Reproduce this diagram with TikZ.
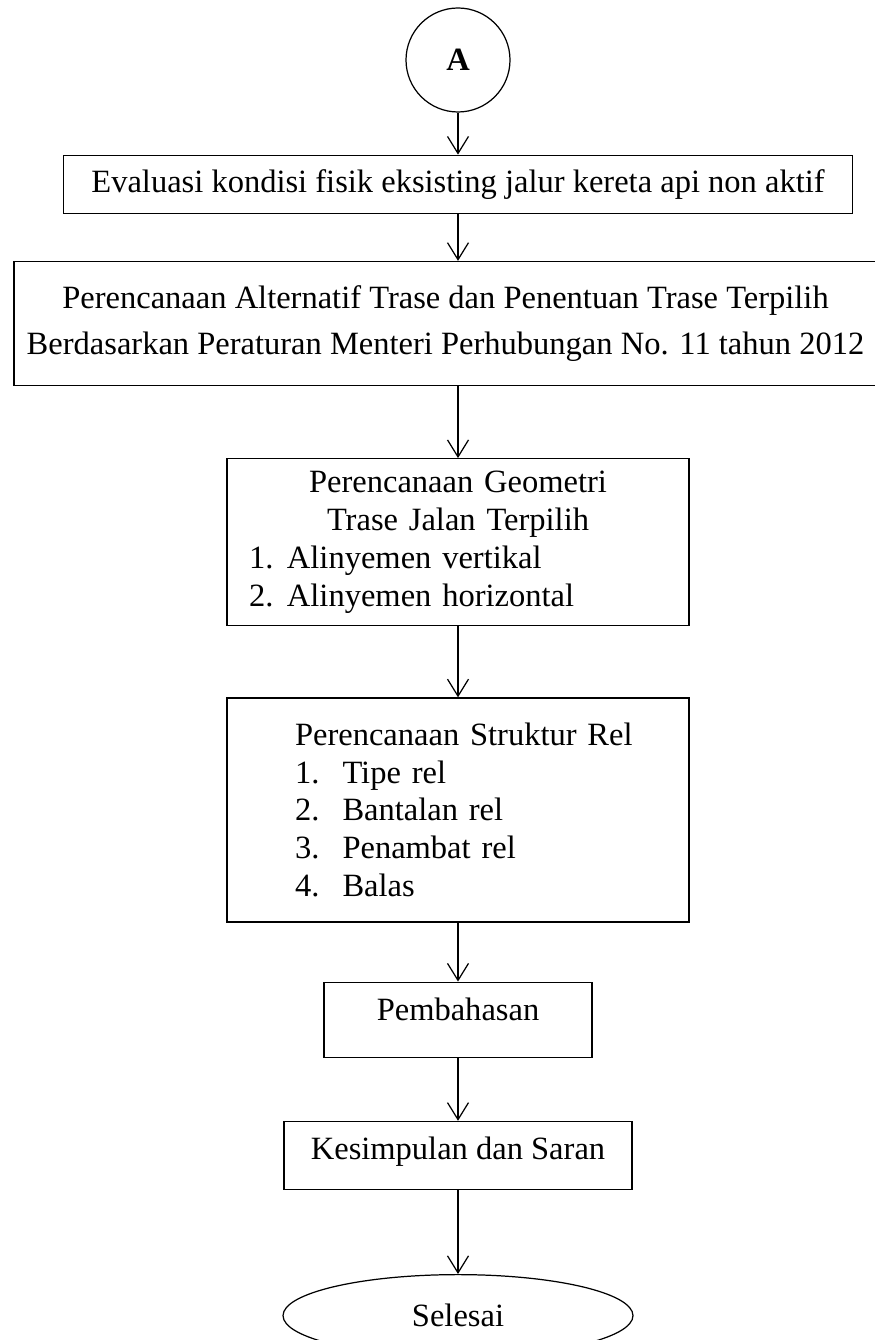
\documentclass[tikz,border=0pt]{standalone}
\usepackage{fontspec}
\setmainfont{Liberation Serif}
\usetikzlibrary{arrows.meta, positioning, shapes.geometric}
\setlength{\parindent}{0pt}

\begin{document}
\begin{tikzpicture}[
  box/.style={draw, line width=0.7pt, inner sep=0pt, align=center,
    font=\fontsize{18.5}{21.5}\selectfont},
  arr/.style={-{Straight Barb[length=0.34cm, width=0.42cm]}, line width=0.7pt}
]
\useasboundingbox (0,0) rectangle (17.48,-26.8);
\node[box, circle, minimum size=2.08cm, font=\fontsize{18.5}{21.5}\selectfont\bfseries] (conn) at (9.16,-1.2) {A};
\node[box, minimum width=15.78cm, minimum height=1.16cm, below=0.84cm of conn] (eval) {Evaluasi kondisi fisik eksisting jalur kereta api non aktif};
\node[box, minimum width=17.26cm, minimum height=2.48cm, below=0.94cm of eval, xshift=-0.25cm,
  font=\fontsize{18.5}{26.2}\selectfont] (trase) {Perencanaan Alternatif Trase dan Penentuan Trase Terpilih\\
  Berdasarkan Peraturan Menteri Perhubungan No. 11 tahun 2012};
\node[box, text width=9.24cm, align=left, minimum height=3.34cm] (geom) at ([yshift=-1.44cm]eval.south |- trase.south) [anchor=north]
  {{\centering Perencanaan Geometri\\Trase Jalan Terpilih\par}
  \hspace*{0.44cm}\makebox[0.76cm][l]{1.}Alinyemen vertikal\\
  \hspace*{0.44cm}\makebox[0.76cm][l]{2.}Alinyemen horizontal};
\node[box, text width=9.24cm, align=left, minimum height=4.48cm, below=1.42cm of geom] (rel)
  {\hspace*{1.36cm}Perencanaan Struktur Rel\\
  \hspace*{1.36cm}\makebox[0.95cm][l]{1.}Tipe rel\\
  \hspace*{1.36cm}\makebox[0.95cm][l]{2.}Bantalan rel\\
  \hspace*{1.36cm}\makebox[0.95cm][l]{3.}Penambat rel\\
  \hspace*{1.36cm}\makebox[0.95cm][l]{4.}Balas};
\node[box, minimum width=5.36cm, minimum height=1.5cm, text depth=0.4cm, below=1.18cm of rel] (bahas) {Pembahasan};
\node[box, minimum width=6.96cm, minimum height=1.36cm, text depth=0.3cm, below=1.26cm of bahas] (simpul) {Kesimpulan dan Saran};
\node[box, ellipse, minimum width=7cm, minimum height=1.64cm, below=1.68cm of simpul] (selesai) {Selesai};
% connectors
\draw[arr] (conn) -- (eval);
\draw[arr] (eval) -- (eval |- trase.north);
\draw[arr] (eval |- trase.south) -- (geom);
\draw[arr] (geom) -- (rel);
\draw[arr] (rel) -- (bahas);
\draw[arr] (bahas) -- (simpul);
\draw[arr] (simpul) -- (selesai);
\end{tikzpicture}
\end{document}
